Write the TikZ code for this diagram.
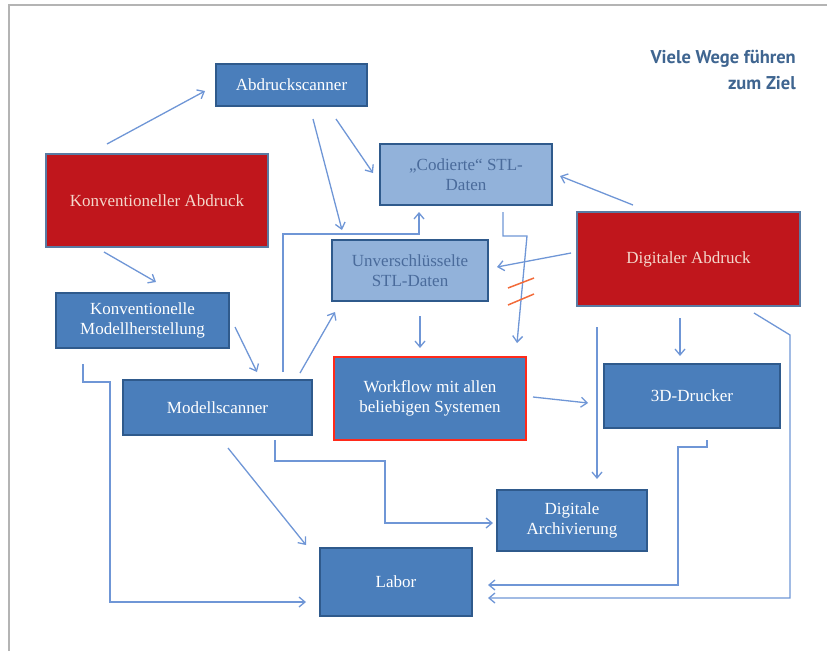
\documentclass[tikz,border=0pt]{standalone}
\usepackage{fontspec}
\setmainfont{Liberation Serif}
\newfontfamily\titlefont{PT Sans}
\usetikzlibrary{arrows.meta}
\definecolor{boxblue}{HTML}{4A7EBB}
\definecolor{boxedge}{HTML}{2F5A8C}
\definecolor{lightbox}{HTML}{92B2DA}
\definecolor{lighttext}{HTML}{4A6B9B}
\definecolor{redbox}{HTML}{C0161C}
\definecolor{redtext}{HTML}{F4D8CC}
\definecolor{redframe}{HTML}{FF2A1A}
\definecolor{linkblue}{HTML}{6F96D6}
\definecolor{slash}{HTML}{F26B3A}
\definecolor{titleblue}{HTML}{3F6590}
\definecolor{framegray}{HTML}{B4B4B4}
\begin{document}
\begin{tikzpicture}[x=1pt,y=-1pt,
  base/.style={rectangle,inner sep=0pt,align=center,font=\fontsize{17}{20}\selectfont},
  bluebox/.style={base,fill=boxblue,draw=boxedge,line width=2.4pt,text=white},
  lightbox/.style={base,fill=lightbox,draw=boxedge,line width=2.4pt,text=lighttext},
  redbox/.style={base,fill=redbox,draw=boxedge!80,line width=2pt,text=redtext},
  wfbox/.style={base,fill=boxblue,draw=redframe,line width=2.4pt,text=white},
  link/.style={draw=linkblue,line width=1.3pt,-{Straight Barb[length=6pt,width=10pt,line width=1.3pt]}}
]
\useasboundingbox (0,0) rectangle (827,651);
\draw[framegray,line width=1.5pt] (9,651) -- (9,5) -- (827,5);

\node[font=\titlefont\bfseries\fontsize{18.5}{26}\selectfont, text=titleblue, align=right, anchor=north east, inner sep=0pt] (title) at (796,50) {Viele Wege führen\\zum Ziel};

\node[bluebox, minimum width=151pt, minimum height=42pt] (absc) at (291.5,85) {Abdruckscanner};
\node[lightbox, minimum width=172pt, minimum height=61pt] (cod) at (466,174.5) {„Codierte“ STL-\\Daten};
\node[redbox, minimum width=222pt, minimum height=93pt] (kab) at (157,200.5) {Konventioneller Abdruck};
\node[lightbox, minimum width=156pt, minimum height=61pt] (unv) at (410,270.5) {Unverschlüsselte\\STL-Daten};
\node[redbox, minimum width=223pt, minimum height=94pt] (dab) at (688.5,259) {Digitaler Abdruck};
\node[bluebox, minimum width=173pt, minimum height=55pt] (kmh) at (142.5,320.5) {Konventionelle\\Modellherstellung};
\node[bluebox, minimum width=189pt, minimum height=55pt] (msc) at (217.5,407.5) {Modellscanner};
\node[wfbox, minimum width=192pt, minimum height=83pt] (wf) at (430,398.5) {Workflow mit allen\\beliebigen Systemen};
\node[bluebox, minimum width=176pt, minimum height=64pt] (drk) at (692,396) {3D-Drucker};
\node[bluebox, minimum width=150pt, minimum height=61pt] (arc) at (572,520.5) {Digitale\\Archivierung};
\node[bluebox, minimum width=152pt, minimum height=68pt] (lab) at (396,582) {Labor};

% connector end points
\coordinate (c1a) at (107,144);  \coordinate (c1b) at (205,91);
\coordinate (c2a) at (104,252);  \coordinate (c2b) at (156,282);
\coordinate (c3a) at (336,119);  \coordinate (c3b) at (373,173);
\coordinate (c4a) at (313,119);  \coordinate (c4b) at (342,230);
\coordinate (c5a) at (283,372);  \coordinate (c5b) at (419,212);
\coordinate (c6a) at (300,373);  \coordinate (c6b) at (335,312);
\coordinate (c7a) at (235,327);  \coordinate (c7b) at (257,372);
\coordinate (c8a) at (83,364);   \coordinate (c8b) at (306,602);
\coordinate (c9a) at (228,448);  \coordinate (c9b) at (306,545);
\coordinate (c10a) at (275,440); \coordinate (c10b) at (493,523);
\coordinate (c11a) at (420,316); \coordinate (c11b) at (420,348);
\coordinate (c12a) at (503,212); \coordinate (c12b) at (517,343);
\coordinate (c13a) at (633,205); \coordinate (c13b) at (560,176);
\coordinate (c14a) at (571,253); \coordinate (c14b) at (497,267);
\coordinate (c15a) at (680,318); \coordinate (c15b) at (680,356);
\coordinate (c16a) at (597,327); \coordinate (c16b) at (597,479);
\coordinate (c17a) at (754,313); \coordinate (c17b) at (488,598);
\coordinate (c18a) at (707,440); \coordinate (c18b) at (488,585);
\coordinate (c19a) at (533,397); \coordinate (c19b) at (588,403);

\path[link] (c1a) -- (c1b);
\path[link] (c2a) -- (c2b);
\path[link] (c3a) -- (c3b);
\path[link] (c4a) -- (c4b);
\path[link] (c5a) -- (283,234) -- (419,234) -- (c5b);
\path[link] (c6a) -- (c6b);
\path[link] (c7a) -- (c7b);
\path[link] (c8a) -- (83,382) -- (110,382) -- (110,602) -- (c8b);
\path[link] (c9a) -- (c9b);
\path[link] (c10a) -- (275,461) -- (385,461) -- (385,523) -- (c10b);
\path[link] (c11a) -- (c11b);
\path[link] (c12a) -- (503,236) -- (527,236) -- (c12b);
\path[link] (c13a) -- (c13b);
\path[link] (c14a) -- (c14b);
\path[link] (c15a) -- (c15b);
\path[link] (c16a) -- (c16b);
\path[link] (c17a) -- (790,335) -- (790,598) -- (c17b);
\path[link] (c18a) -- (707,447) -- (678,447) -- (678,585) -- (c18b);
\path[link] (c19a) -- (c19b);

\draw[slash,line width=1.5pt] (508,288) -- (534,278);
\draw[slash,line width=1.5pt] (508,305) -- (534,294);
\end{tikzpicture}
\end{document}
